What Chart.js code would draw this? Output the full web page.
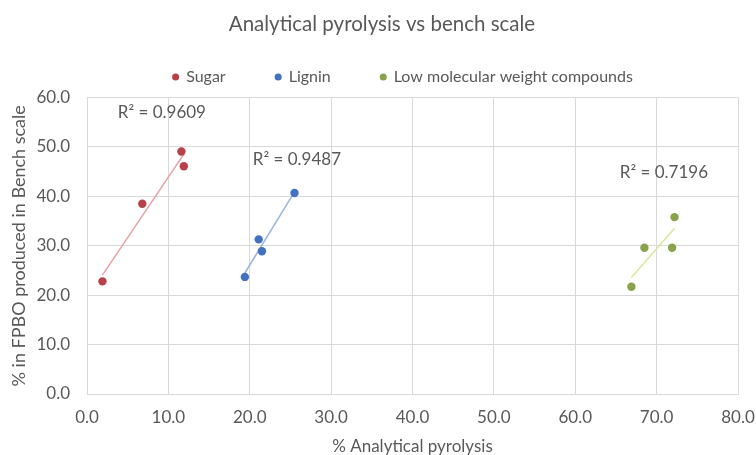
<!DOCTYPE html>
<html>
<head>
<meta charset="utf-8">
<script src="https://cdn.jsdelivr.net/npm/chart.js@4.4.1/dist/chart.umd.min.js"></script>
<style>
html,body{margin:0;padding:0;background:#fff;}
#wrap{width:756px;height:455px;}
</style>
</head>
<body>
<div id="wrap"><canvas id="c" width="756" height="455"></canvas></div>
<script>
const seriesNames = ["Sugar", "Lignin", "Low molecular weight compounds"];
const sugarX = [1.9, 6.8, 11.6, 11.9];
const sugarY = [22.8, 38.5, 49.1, 46.1];
const ligninX = [19.4, 21.1, 21.5, 25.5];
const ligninY = [23.7, 31.3, 28.9, 40.7];
const lmwX = [66.9, 68.5, 71.9, 72.2];
const lmwY = [21.7, 29.6, 29.6, 35.8];
const r2Labels = ["R² = 0.9609", "R² = 0.9487", "R² = 0.7196"];
const xTicks = [0, 10, 20, 30, 40, 50, 60, 70, 80];
const yTicks = [0, 10, 20, 30, 40, 50, 60];

const markerColors = ["#b8404a", "#4470c0", "#8aa24c"];
const trendColors = ["#eba0a3", "#9ab4e0", "#d9e7a0"];
const r2Anchors = [[9.2, 56.9], [25.8, 47.4], [70.9, 44.9]];

function pts(xs, ys) { return xs.map((x, i) => ({x: x, y: ys[i]})); }
function trend(xs, ys) {
  const n = xs.length;
  const mx = xs.reduce((a, b) => a + b, 0) / n;
  const my = ys.reduce((a, b) => a + b, 0) / n;
  let sxy = 0, sxx = 0;
  for (let i = 0; i < n; i++) { sxy += (xs[i] - mx) * (ys[i] - my); sxx += (xs[i] - mx) ** 2; }
  const b = sxy / sxx, a = my - b * mx;
  const x0 = Math.min(...xs), x1 = Math.max(...xs);
  return [{x: x0, y: a + b * x0}, {x: x1, y: a + b * x1}];
}

const groups = [[sugarX, sugarY], [ligninX, ligninY], [lmwX, lmwY]];
const datasets = [];
groups.forEach((g, i) => {
  datasets.push({
    type: 'scatter', label: seriesNames[i], data: pts(g[0], g[1]),
    backgroundColor: markerColors[i], borderColor: markerColors[i],
    pointRadius: 4.2, pointHoverRadius: 4.2, borderWidth: 0, order: 1
  });
});
groups.forEach((g, i) => {
  datasets.push({
    type: 'line', label: 'trend' + i, data: trend(g[0], g[1]),
    borderColor: trendColors[i], borderWidth: 1.5, pointRadius: 0,
    fill: false, order: 2
  });
});

const FAM = 'Lato, "Open Sans", sans-serif';
const r2Plugin = {
  id: 'r2',
  afterDatasetsDraw(chart) {
    const ctx = chart.ctx, xs = chart.scales.x, ys = chart.scales.y;
    ctx.save();
    ctx.font = '17px ' + FAM;
    ctx.fillStyle = '#595959';
    ctx.textAlign = 'center';
    ctx.textBaseline = 'middle';
    r2Labels.forEach((t, i) => {
      ctx.fillText(t, xs.getPixelForValue(r2Anchors[i][0]), ys.getPixelForValue(r2Anchors[i][1]));
    });
    ctx.restore();
  }
};

// legend: keep wide horizontal spacing but place the row close under the title
const LEGEND_ROW_CENTER = 77, LEGEND_SHIFT_X = 21, TITLE_BLOCK = 36, PLOT_TOP = 97;
const legendFix = {
  id: 'legendFix',
  afterInit(chart) {
    const lg = chart.legend;
    const f = lg.fit.bind(lg);
    lg.fit = function () { f(); this.height = PLOT_TOP - TITLE_BLOCK; };
  },
  afterLayout(chart) {
    const lg = chart.legend;
    const pad = lg.options.labels.padding, fs = lg.options.labels.font.size;
    lg.top = LEGEND_ROW_CENTER - pad - fs / 2;
    lg.bottom = PLOT_TOP;
    lg.left += LEGEND_SHIFT_X; lg.right += LEGEND_SHIFT_X;
  }
};

const tickFont = {family: FAM, size: 17};
new Chart(document.getElementById('c'), {
  data: {datasets: datasets},
  plugins: [r2Plugin, legendFix],
  options: {
    responsive: false, animation: false, events: [],
    layout: {padding: {left: 8, right: 0, top: 0, bottom: 0}},
    plugins: {
      title: {display: true, text: 'Analytical pyrolysis vs bench scale', color: '#595959',
        font: {family: FAM, size: 20.5, weight: 'normal'}, padding: {top: 12, bottom: 0}},
      legend: {display: true, position: 'top',
        labels: {usePointStyle: true, boxWidth: 5, boxHeight: 5, color: '#595959', font: {family: FAM, size: 16}, padding: 50,
          filter: (item) => item.datasetIndex < 3}},
      tooltip: {enabled: false}
    },
    scales: {
      x: {type: 'linear', min: 0, max: 80,
        afterBuildTicks: (s) => { s.ticks = xTicks.map(v => ({value: v})); },
        ticks: {color: '#595959', font: tickFont, callback: v => v.toFixed(1), padding: 13},
        grid: {color: '#d9d9d9', drawTicks: false},
        border: {color: '#d9d9d9'},
        title: {display: true, text: '% Analytical pyrolysis', color: '#595959', font: {family: FAM, size: 17}, padding: {top: 0, bottom: -2}},
        afterFit: (s) => { s.height = 61; s.paddingRight = 18; }
      },
      y: {type: 'linear', min: 0, max: 60,
        afterBuildTicks: (s) => { s.ticks = yTicks.map(v => ({value: v})); },
        ticks: {color: '#595959', font: tickFont, callback: v => v.toFixed(1), padding: 17},
        grid: {color: '#d9d9d9', drawTicks: false},
        border: {color: '#d9d9d9'},
        title: {display: true, text: '% in FPBO produced in Bench scale', color: '#595959', font: {family: FAM, size: 18}, padding: {top: 0, bottom: 0}},
        afterFit: (s) => { s.width = 79; }
      }
    }
  }
});
</script>
</body>
</html>
